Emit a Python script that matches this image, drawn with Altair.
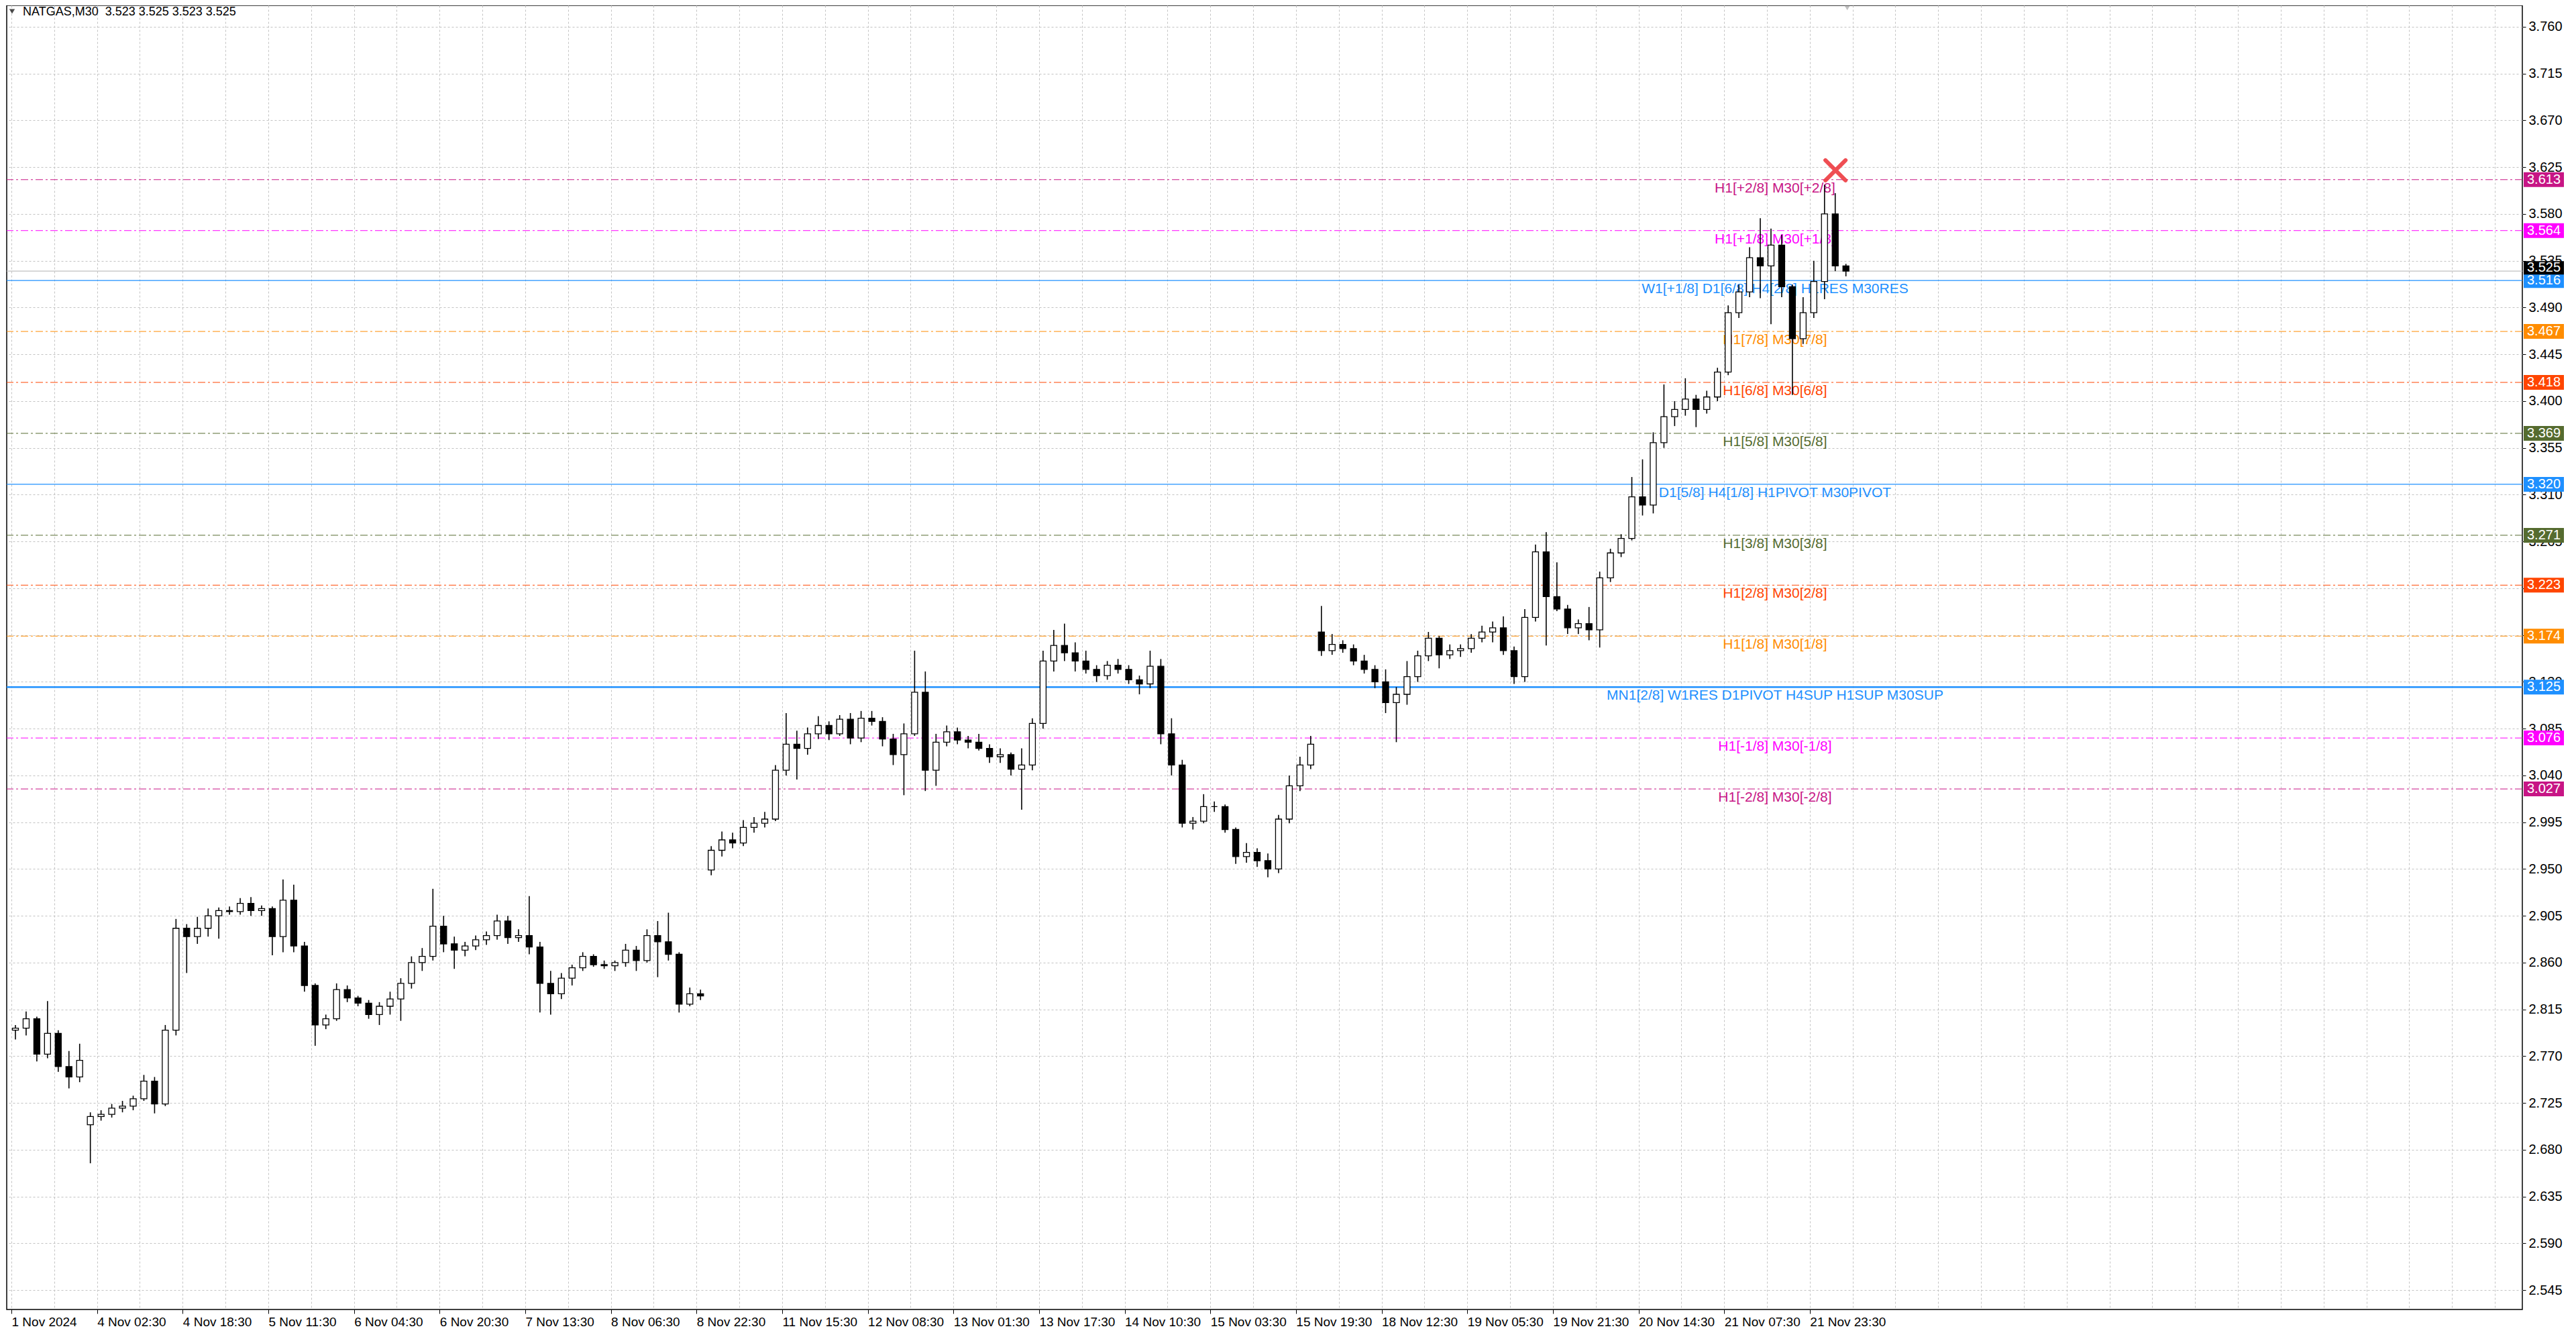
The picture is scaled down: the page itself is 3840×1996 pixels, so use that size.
import altair as alt
import pandas as pd

SYMBOL_LINE = "NATGAS,M30\u00a0\u00a03.523 3.525 3.523 3.525"

TIME_LABELS = ["1 Nov 2024", "4 Nov 02:30", "4 Nov 18:30", "5 Nov 11:30", "6 Nov 04:30",
               "6 Nov 20:30", "7 Nov 13:30", "8 Nov 06:30", "8 Nov 22:30", "11 Nov 15:30",
               "12 Nov 08:30", "13 Nov 01:30", "13 Nov 17:30", "14 Nov 10:30", "15 Nov 03:30",
               "15 Nov 19:30", "18 Nov 12:30", "19 Nov 05:30", "19 Nov 21:30", "20 Nov 14:30",
               "21 Nov 07:30", "21 Nov 23:30"]

PRICE_TICKS = [2.545, 2.590, 2.635, 2.680, 2.725, 2.770, 2.815, 2.860, 2.905, 2.950,
               2.995, 3.040, 3.085, 3.130, 3.175, 3.220, 3.265, 3.310, 3.355, 3.400,
               3.445, 3.490, 3.535, 3.580, 3.625, 3.670, 3.715, 3.760]

OPENS = [2.795, 2.797, 2.806, 2.772, 2.792, 2.760, 2.750, 2.704, 2.712, 2.714,
         2.720, 2.722, 2.729, 2.746, 2.724, 2.795, 2.893, 2.885, 2.893, 2.905,
         2.910, 2.909, 2.917, 2.910, 2.912, 2.885, 2.920, 2.876, 2.838, 2.800,
         2.806, 2.834, 2.826, 2.821, 2.810, 2.818, 2.825, 2.840, 2.860, 2.866,
         2.895, 2.878, 2.872, 2.876, 2.882, 2.886, 2.900, 2.884, 2.886, 2.875,
         2.840, 2.830, 2.845, 2.855, 2.866, 2.858, 2.857, 2.860, 2.872, 2.862,
         2.886, 2.880, 2.868, 2.820, 2.830, 2.949, 2.968, 2.978, 2.975, 2.990,
         2.994, 2.998, 3.045, 3.070, 3.066, 3.080, 3.088, 3.080, 3.094, 3.076,
         3.095, 3.092, 3.075, 3.060, 3.080, 3.120, 3.045, 3.072, 3.082, 3.074,
         3.072, 3.066, 3.058, 3.060, 3.046, 3.050, 3.090, 3.150, 3.165, 3.158,
         3.150, 3.142, 3.136, 3.146, 3.142, 3.132, 3.128, 3.145, 3.080, 3.050,
         2.994, 2.996, 3.010, 3.010, 2.988, 2.962, 2.966, 2.958, 2.950, 2.998,
         3.030, 3.050, 3.178, 3.160, 3.166, 3.162, 3.150, 3.142, 3.130, 3.110,
         3.118, 3.135, 3.155, 3.172, 3.156, 3.160, 3.162, 3.172, 3.178, 3.182,
         3.160, 3.135, 3.192, 3.255, 3.212, 3.200, 3.182, 3.186, 3.180, 3.230,
         3.254, 3.268, 3.308, 3.300, 3.360, 3.385, 3.392, 3.402, 3.392, 3.404,
         3.428, 3.485, 3.505, 3.538, 3.530, 3.550, 3.510, 3.460, 3.485, 3.515,
         3.580, 3.530]

HIGHS = [2.800, 2.813, 2.808, 2.823, 2.795, 2.775, 2.782, 2.716, 2.718, 2.724,
         2.727, 2.732, 2.752, 2.750, 2.800, 2.902, 2.897, 2.904, 2.912, 2.913,
         2.914, 2.922, 2.923, 2.915, 2.914, 2.940, 2.935, 2.880, 2.840, 2.810,
         2.840, 2.838, 2.828, 2.824, 2.822, 2.832, 2.845, 2.866, 2.874, 2.931,
         2.905, 2.885, 2.880, 2.886, 2.890, 2.906, 2.905, 2.892, 2.924, 2.880,
         2.852, 2.850, 2.858, 2.870, 2.868, 2.862, 2.862, 2.878, 2.876, 2.892,
         2.900, 2.908, 2.870, 2.836, 2.834, 2.972, 2.986, 2.985, 2.997, 3.000,
         3.005, 3.050, 3.100, 3.083, 3.086, 3.097, 3.092, 3.098, 3.100, 3.102,
         3.102, 3.096, 3.080, 3.090, 3.160, 3.140, 3.080, 3.088, 3.086, 3.078,
         3.080, 3.070, 3.066, 3.062, 3.066, 3.095, 3.160, 3.180, 3.186, 3.168,
         3.160, 3.146, 3.150, 3.152, 3.146, 3.136, 3.160, 3.152, 3.095, 3.055,
         3.000, 3.022, 3.015, 3.012, 2.990, 2.975, 2.970, 2.965, 3.002, 3.040,
         3.058, 3.078, 3.203, 3.176, 3.170, 3.166, 3.156, 3.146, 3.142, 3.125,
         3.150, 3.160, 3.178, 3.174, 3.166, 3.166, 3.176, 3.184, 3.188, 3.193,
         3.164, 3.200, 3.262, 3.274, 3.245, 3.204, 3.190, 3.202, 3.236, 3.258,
         3.272, 3.327, 3.344, 3.370, 3.416, 3.400, 3.422, 3.406, 3.410, 3.432,
         3.492, 3.512, 3.548, 3.576, 3.566, 3.560, 3.512, 3.500, 3.535, 3.608,
         3.600, 3.532]

LOWS = [2.786, 2.790, 2.765, 2.768, 2.755, 2.739, 2.745, 2.667, 2.708, 2.711,
        2.716, 2.718, 2.727, 2.715, 2.722, 2.790, 2.850, 2.878, 2.885, 2.883,
        2.906, 2.906, 2.905, 2.905, 2.867, 2.870, 2.870, 2.832, 2.780, 2.796,
        2.804, 2.822, 2.818, 2.806, 2.800, 2.810, 2.804, 2.835, 2.852, 2.862,
        2.870, 2.854, 2.866, 2.872, 2.877, 2.882, 2.878, 2.880, 2.868, 2.812,
        2.810, 2.825, 2.838, 2.852, 2.856, 2.854, 2.852, 2.856, 2.852, 2.860,
        2.846, 2.862, 2.812, 2.818, 2.824, 2.944, 2.962, 2.970, 2.972, 2.985,
        2.990, 2.996, 3.040, 3.036, 3.060, 3.075, 3.074, 3.078, 3.070, 3.072,
        3.088, 3.068, 3.050, 3.021, 3.078, 3.025, 3.030, 3.068, 3.070, 3.066,
        3.064, 3.052, 3.052, 3.040, 3.007, 3.045, 3.085, 3.140, 3.150, 3.140,
        3.138, 3.130, 3.132, 3.138, 3.128, 3.118, 3.124, 3.070, 3.040, 2.990,
        2.988, 2.994, 3.005, 2.985, 2.955, 2.956, 2.952, 2.942, 2.946, 2.994,
        3.025, 3.046, 3.155, 3.156, 3.158, 3.146, 3.138, 3.124, 3.100, 3.072,
        3.108, 3.130, 3.150, 3.143, 3.152, 3.154, 3.158, 3.168, 3.168, 3.156,
        3.128, 3.130, 3.188, 3.165, 3.198, 3.176, 3.176, 3.170, 3.163, 3.226,
        3.250, 3.266, 3.290, 3.292, 3.355, 3.376, 3.386, 3.375, 3.388, 3.400,
        3.425, 3.480, 3.500, 3.499, 3.474, 3.500, 3.406, 3.455, 3.480, 3.498,
        3.525, 3.520]

CLOSES = [2.797, 2.806, 2.772, 2.792, 2.760, 2.750, 2.766, 2.712, 2.714, 2.720,
          2.722, 2.729, 2.746, 2.724, 2.795, 2.893, 2.885, 2.893, 2.905, 2.910,
          2.909, 2.917, 2.910, 2.912, 2.885, 2.920, 2.876, 2.838, 2.800, 2.806,
          2.834, 2.826, 2.821, 2.810, 2.818, 2.825, 2.840, 2.860, 2.866, 2.895,
          2.878, 2.872, 2.876, 2.882, 2.886, 2.900, 2.884, 2.886, 2.875, 2.840,
          2.830, 2.845, 2.855, 2.866, 2.858, 2.857, 2.860, 2.872, 2.862, 2.886,
          2.880, 2.868, 2.820, 2.830, 2.828, 2.968, 2.978, 2.975, 2.990, 2.994,
          2.998, 3.045, 3.070, 3.066, 3.080, 3.088, 3.080, 3.094, 3.076, 3.095,
          3.092, 3.075, 3.060, 3.080, 3.120, 3.045, 3.072, 3.082, 3.074, 3.072,
          3.066, 3.058, 3.060, 3.046, 3.050, 3.090, 3.150, 3.165, 3.158, 3.150,
          3.142, 3.136, 3.146, 3.142, 3.132, 3.128, 3.145, 3.080, 3.050, 2.994,
          2.996, 3.010, 3.010, 2.988, 2.962, 2.966, 2.958, 2.950, 2.998, 3.030,
          3.050, 3.070, 3.160, 3.166, 3.162, 3.150, 3.142, 3.130, 3.110, 3.118,
          3.135, 3.155, 3.172, 3.156, 3.160, 3.162, 3.172, 3.178, 3.182, 3.160,
          3.135, 3.192, 3.255, 3.212, 3.200, 3.182, 3.186, 3.180, 3.230, 3.254,
          3.268, 3.308, 3.300, 3.360, 3.385, 3.392, 3.402, 3.392, 3.404, 3.428,
          3.485, 3.505, 3.538, 3.530, 3.550, 3.510, 3.460, 3.485, 3.515, 3.580,
          3.530, 3.525]

# Murrey-math style levels drawn by the indicator
LEVEL_PRICES = [3.613, 3.564, 3.516, 3.467, 3.418, 3.369, 3.320,
                3.271, 3.223, 3.174, 3.125, 3.076, 3.027]
LEVEL_LABELS = ["H1[+2/8] M30[+2/8]", "H1[+1/8] M30[+1/8]",
                "W1[+1/8] D1[6/8] H4[2/8] H1RES M30RES",
                "H1[7/8] M30[7/8]", "H1[6/8] M30[6/8]", "H1[5/8] M30[5/8]",
                "D1[5/8] H4[1/8] H1PIVOT M30PIVOT",
                "H1[3/8] M30[3/8]", "H1[2/8] M30[2/8]", "H1[1/8] M30[1/8]",
                "MN1[2/8] W1RES D1PIVOT H4SUP H1SUP M30SUP",
                "H1[-1/8] M30[-1/8]", "H1[-2/8] M30[-2/8]"]
LEVEL_COLORS = ["#C71585", "#FF00FF", "#1E90FF", "#FF8C00", "#FF4500", "#556B2F", "#1E90FF",
                "#556B2F", "#FF4500", "#FF8C00", "#1E90FF", "#FF00FF", "#C71585"]
LEVEL_SOLID = [False, False, True, False, False, False, True,
               False, False, False, True, False, False]
LEVEL_WIDTH = [1, 1, 1.2, 1, 1, 1, 1.2, 1, 1, 1, 2.5, 1, 1]

CURRENT_PRICE = [3.525]
SIGNAL_BAR = [681.6]
SIGNAL_PRICE = [3.622]
SHIFT_BAR = [686]

# layout / style
W, H = 3750, 1944
BARS_PER_CANDLE = 4
LABEL_BAR = 659
FONT = "Liberation Sans"
GRID = "#c3c3c3"
DASH_DOT = [11, 4, 3, 4]

candles = pd.DataFrame({"open": OPENS, "high": HIGHS, "low": LOWS, "close": CLOSES})
candles["t"] = candles.index * BARS_PER_CANDLE + (BARS_PER_CANDLE - 1) / 2

levels = pd.DataFrame({"price": LEVEL_PRICES, "label": LEVEL_LABELS, "color": LEVEL_COLORS,
                       "solid": LEVEL_SOLID, "width": LEVEL_WIDTH})
levels["txt"] = [f"{p:.3f}" for p in LEVEL_PRICES]
current = pd.DataFrame({"price": CURRENT_PRICE, "txt": [f"{p:.3f}" for p in CURRENT_PRICE]})
signal = pd.DataFrame({"t": SIGNAL_BAR, "price": SIGNAL_PRICE})
shift = pd.DataFrame({"t": SHIFT_BAR})

x_scale = alt.Scale(domain=[-0.5, 937], nice=False, zero=False)
y_scale = alt.Scale(domain=[2.5264, 3.7806], nice=False, zero=False)

label_js = "[" + ",".join(f"'{s}'" for s in TIME_LABELS) + "]"
x_axis = alt.Axis(
    values=list(range(0, 937, 16)),
    labelExpr=f"datum.value % 32 == 0 && datum.value / 32 < {len(TIME_LABELS)} ? {label_js}[datum.value / 32] : ''",
    title=None, grid=True, gridDash=[3, 3], gridColor=GRID, gridWidth=1,
    labelAlign="left", labelFont=FONT, labelFontSize=19, labelColor="black",
    labelPadding=3, labelOverlap=False, labelFlush=False,
    tickColor="black", tickSize=6,
    tickOpacity={"condition": {"test": f"datum.value % 32 == 0 && datum.value / 32 < {len(TIME_LABELS)}",
                               "value": 1}, "value": 0},
    domain=False,
)
y_axis = alt.Axis(
    orient="right", values=PRICE_TICKS, format=".3f", title=None,
    grid=True, gridDash=[3, 3], gridColor=GRID, gridWidth=1,
    labelFont=FONT, labelFontSize=20, labelColor="black", labelPadding=4,
    labelOverlap=False, labelFlush=False, tickColor="black", tickSize=5, domain=False,
)


def X(field):
    return alt.X(field, type="quantitative", scale=x_scale, axis=x_axis)


def Y(field):
    return alt.Y(field, type="quantitative", scale=y_scale, axis=y_axis)


dashed_lines = alt.Chart(levels).transform_filter("!datum.solid").mark_rule(strokeDash=DASH_DOT).encode(
    y=Y("price"),
    color=alt.Color("color:N", scale=None),
    strokeWidth=alt.StrokeWidth("width:Q", scale=None),
)
solid_lines = alt.Chart(levels).transform_filter("datum.solid").mark_rule().encode(
    y=Y("price"),
    color=alt.Color("color:N", scale=None),
    strokeWidth=alt.StrokeWidth("width:Q", scale=None),
)
price_line = alt.Chart(current).mark_rule(color="#c0c0c0", strokeWidth=1.2).encode(y=Y("price"))

level_text = alt.Chart(levels).mark_text(
    align="center", baseline="top", font=FONT, fontSize=21, dy=2
).encode(
    x=alt.X(datum=LABEL_BAR, type="quantitative", scale=x_scale, axis=x_axis),
    y=Y("price"),
    text="label:N",
    color=alt.Color("color:N", scale=None),
)

wicks = alt.Chart(candles).mark_rule(color="black", strokeWidth=1.6).encode(
    x=X("t"), y=Y("low"), y2="high"
)
bodies = alt.Chart(candles).mark_bar(size=9, stroke="black", strokeWidth=1.3).encode(
    x=X("t"), y=Y("open"), y2="close",
    fill=alt.condition("datum.close >= datum.open", alt.value("white"), alt.value("black")),
)

cross = alt.Chart(signal).mark_point(
    shape="M-1,-1L1,1M1,-1L-1,1", filled=False, size=900, strokeWidth=6,
    color="#ee3f45", opacity=0.92, strokeCap="round"
).encode(x=X("t"), y=Y("price"))

shift_mark = alt.Chart(shift).mark_point(
    shape="triangle-down", filled=True, color="#a8a8a8", size=60
).encode(x=X("t"), y=alt.value(4))

boxes = alt.Chart(levels).mark_tick(orient="horizontal", size=60, thickness=22, opacity=1).encode(
    x=alt.value(W + 32), y=Y("price"), color=alt.Color("color:N", scale=None)
)
box_text = alt.Chart(levels).mark_text(
    align="center", baseline="middle", font=FONT, fontSize=20, color="white"
).encode(x=alt.value(W + 32), y=Y("price"), text="txt:N")

cur_box = alt.Chart(current).mark_tick(
    orient="horizontal", size=60, thickness=20, color="black", opacity=1, yOffset=-5
).encode(x=alt.value(W + 32), y=Y("price"))
cur_text = alt.Chart(current).mark_text(
    align="center", baseline="middle", font=FONT, fontSize=20, color="white", yOffset=-5
).encode(x=alt.value(W + 32), y=Y("price"), text="txt:N")

title_arrow = alt.Chart(current).mark_point(
    shape="triangle-down", filled=True, color="black", size=70
).encode(x=alt.value(8), y=alt.value(9))
title_text = alt.Chart(current).mark_text(
    align="left", baseline="middle", font=FONT, fontSize=18, color="black"
).encode(x=alt.value(24), y=alt.value(10), text=alt.value(SYMBOL_LINE))

chart = alt.layer(
    dashed_lines, solid_lines, price_line, level_text, wicks, bodies, cross, shift_mark,
    boxes, box_text, cur_box, cur_text, title_arrow, title_text,
).properties(
    width=W, height=H, padding=0, background="white"
).configure_view(
    stroke="black", strokeWidth=1.5
)

chart.save("out.html", embed_options={"renderer": "svg", "actions": False})
